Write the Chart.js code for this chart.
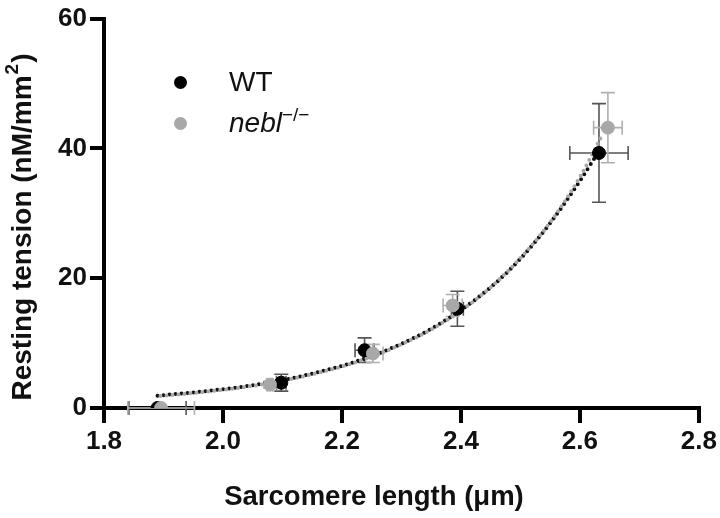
<!DOCTYPE html>
<html>
<head>
<meta charset="utf-8">
<script src="https://cdn.jsdelivr.net/npm/chart.js@4"></script>
<style>
  body { margin: 0; background: #fff; }
  #wrap { position: relative; width: 720px; height: 518px; }
  .leg { position: absolute; font-family: "Liberation Sans", Arial, sans-serif; font-size: 28px; color: #111; line-height: 1; }
  .dot { position: absolute; width: 13px; height: 13px; border-radius: 50%; }
  sup { font-size: 19px; font-style: normal; vertical-align: 0; position: relative; top: -11px; }
</style>
</head>
<body>
<div id="wrap">
  <canvas id="myChart" width="720" height="518"></canvas>
  <div class="dot" style="left:174px; top:76px; background:#000;"></div>
  <div class="leg" style="left:229px; top:68px;">WT</div>
  <div class="dot" style="left:174px; top:117px; background:#a8a8a8;"></div>
  <div class="leg" style="left:229px; top:109px;"><i>nebl</i><sup>&minus;/&minus;</sup></div>
</div>
<script>
color1 = '#000000'
color2 = '#a8a8a8'

// measured points (sarcomere length in um, tension in nM/mm2)
var wtX = [1.890, 2.098, 2.238, 2.394, 2.632];
var wtY = [0, 3.9, 8.9, 15.3, 39.3];
var wtXErr = [0.048, 0.008, 0.016, 0.010, 0.049];
var wtYErr = [0, 1.3, 1.9, 2.7, 7.6];

var neblX = [1.896, 2.079, 2.252, 2.386, 2.647];
var neblY = [0, 3.6, 8.4, 15.8, 43.2];
var neblXErr = [0.056, 0.005, 0.017, 0.016, 0.024];
var neblYErr = [0, 0.5, 1.4, 1.7, 5.4];

// fitted curves
var wtFitX = [1.89, 1.95, 2.0, 2.05, 2.1, 2.15, 2.2, 2.25, 2.3, 2.35, 2.4, 2.45, 2.5, 2.55, 2.6, 2.63];
var wtFitY = [1.9, 2.4, 2.9, 3.5, 4.3, 5.3, 6.5, 8.0, 9.9, 12.2, 15.1, 18.6, 23.0, 28.5, 35.0, 39.3];
var neblFitX = [1.89, 1.95, 2.0, 2.05, 2.1, 2.15, 2.2, 2.25, 2.3, 2.35, 2.4, 2.45, 2.5, 2.55, 2.6, 2.637];
var neblFitY = [1.8, 2.3, 2.8, 3.4, 4.2, 5.2, 6.4, 7.9, 9.8, 12.1, 15.0, 18.6, 23.1, 28.6, 35.6, 42.0];

var xTicks = [1.8, 2.0, 2.2, 2.4, 2.6, 2.8];
var yTicks = [0, 20, 40, 60];

var xTitle = 'Sarcomere length (\u03bcm)';
var yTitle = ['Resting tension (nM/mm', '2', ')'];

function pts(xs, ys) {
    return xs.map(function (x, i) { return { x: x, y: ys[i] }; });
}

var font = "'Liberation Sans', Arial, sans-serif";

var errorBars = {
    id: 'errorBars',
    beforeDatasetsDraw: function (chart) {
        var ctx = chart.ctx;
        var xs = chart.scales.x, ys = chart.scales.y;
        var groups = [
            { x: wtX, y: wtY, ex: wtXErr, ey: wtYErr, color: '#555' },
            { x: neblX, y: neblY, ex: neblXErr, ey: neblYErr, color: '#b0b0b0' }
        ];
        var cap = 7;
        ctx.save();
        ctx.lineWidth = 1.6;
        groups.forEach(function (g) {
            ctx.strokeStyle = g.color;
            g.x.forEach(function (xv, i) {
                var px = xs.getPixelForValue(xv), py = ys.getPixelForValue(g.y[i]);
                if (g.ey[i] > 0) {
                    var t = ys.getPixelForValue(g.y[i] + g.ey[i]);
                    var b = ys.getPixelForValue(g.y[i] - g.ey[i]);
                    ctx.beginPath();
                    ctx.moveTo(px, t); ctx.lineTo(px, b);
                    ctx.moveTo(px - cap, t); ctx.lineTo(px + cap, t);
                    ctx.moveTo(px - cap, b); ctx.lineTo(px + cap, b);
                    ctx.stroke();
                }
                if (g.ex[i] > 0) {
                    var l = xs.getPixelForValue(xv - g.ex[i]);
                    var r = xs.getPixelForValue(xv + g.ex[i]);
                    ctx.beginPath();
                    ctx.moveTo(l, py); ctx.lineTo(r, py);
                    ctx.moveTo(l, py - cap); ctx.lineTo(l, py + cap);
                    ctx.moveTo(r, py - cap); ctx.lineTo(r, py + cap);
                    ctx.stroke();
                }
            });
        });
        ctx.restore();
    }
};

// axis titles drawn by hand so they sit where the figure has them
var axisTitles = {
    id: 'axisTitles',
    afterDraw: function (chart) {
        var ctx = chart.ctx;
        ctx.save();
        ctx.fillStyle = '#111';
        ctx.textBaseline = 'middle';
        ctx.font = 'bold 27.5px ' + font;
        ctx.textAlign = 'center';
        ctx.fillText(xTitle, 374, 497);

        ctx.translate(23, 228);
        ctx.rotate(-Math.PI / 2);
        var big = 'bold 28px ' + font, small = 'bold 19px ' + font;
        ctx.font = big;
        var w1 = ctx.measureText(yTitle[0]).width, w3 = ctx.measureText(yTitle[2]).width;
        ctx.font = small;
        var w2 = ctx.measureText(yTitle[1]).width;
        var x0 = -(w1 + w2 + w3) / 2;
        ctx.textAlign = 'left';
        ctx.font = big;
        ctx.fillText(yTitle[0], x0, 0);
        ctx.font = small;
        ctx.fillText(yTitle[1], x0 + w1 + 1, -10);
        ctx.font = big;
        ctx.fillText(yTitle[2], x0 + w1 + w2 + 2, 0);
        ctx.restore();
    }
};

var ctx = document.getElementById('myChart').getContext('2d');
var chart = new Chart(ctx, {
    type: 'scatter',
    data: {
        datasets: [{
                label: 'WT fit',
                data: pts(wtFitX, wtFitY),
                showLine: true,
                borderColor: '#111',
                borderWidth: 4,
                borderDash: [0, 6],
                borderCapStyle: 'round',
                cubicInterpolationMode: 'monotone',
                pointRadius: 0,
                order: 4
            },
            {
                label: 'nebl fit',
                data: pts(neblFitX, neblFitY),
                showLine: true,
                borderColor: color2,
                borderWidth: 4,
                borderDash: [0, 6],
                borderDashOffset: 3,
                borderCapStyle: 'round',
                cubicInterpolationMode: 'monotone',
                pointRadius: 0,
                order: 3
            },
            {
                label: 'WT',
                data: pts(wtX, wtY),
                backgroundColor: color1,
                borderColor: color1,
                pointRadius: 6.5,
                order: 2
            },
            {
                label: 'nebl-/-',
                data: pts(neblX, neblY),
                backgroundColor: color2,
                borderColor: color2,
                pointRadius: 6.5,
                order: 1
            }
        ]
    },
    options: {
        responsive: false,
        animation: false,
        layout: { padding: { top: 13, right: 20, left: 0, bottom: 0 } },
        plugins: {
            legend: { display: false },
            tooltip: { enabled: false }
        },
        scales: {
            x: {
                type: 'linear',
                min: 1.8,
                max: 2.8,
                afterBuildTicks: function (s) { s.ticks = xTicks.map(function (v) { return { value: v }; }); },
                afterFit: function (s) { s.height = 110; },
                border: { display: true, color: '#000', width: 4 },
                grid: { drawOnChartArea: false, drawTicks: true, tickLength: 15, lineWidth: 4, color: '#000' },
                ticks: {
                    color: '#111',
                    padding: 3,
                    font: { family: font, size: 26, weight: 'bold' },
                    callback: function (v) { return v.toFixed(1); }
                }
            },
            y: {
                type: 'linear',
                min: 0,
                max: 60,
                afterBuildTicks: function (s) { s.ticks = yTicks.map(function (v) { return { value: v }; }); },
                afterFit: function (s) { s.width = 104; },
                border: { display: true, color: '#000', width: 4 },
                grid: { drawOnChartArea: false, drawTicks: true, tickLength: 14, lineWidth: 4, color: '#000' },
                ticks: {
                    color: '#111',
                    padding: 3,
                    font: { family: font, size: 26, weight: 'bold' }
                }
            }
        }
    },
    plugins: [errorBars, axisTitles]
});
</script>
</body>
</html>
